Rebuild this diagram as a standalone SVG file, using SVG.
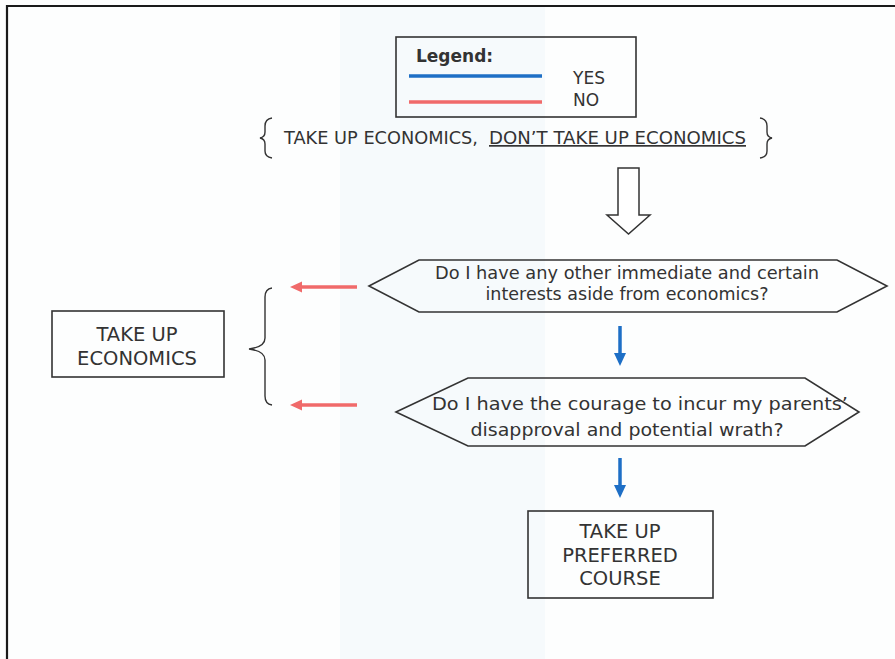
<svg xmlns="http://www.w3.org/2000/svg" width="895" height="659" viewBox="0 0 895 659">
<style>
  text { font-family: "DejaVu Sans", Verdana, sans-serif; fill: #333; }
  .box { fill: none; stroke: #333; stroke-width: 1.6; }
  .t17 { font-size: 17px; }
  .t19 { font-size: 19.5px; }
  .yes { stroke: #1e6fc6; stroke-width: 3.5; fill: none; }
  .no { stroke: #f06a6a; stroke-width: 3.5; fill: none; }
  .yesH { fill: #1e6fc6; }
  .noH { fill: #f06a6a; }
  .brace { fill: none; stroke: #333; stroke-width: 1.4; }
</style>
<rect x="0" y="0" width="895" height="659" fill="#fdfefe"/>
<rect x="340" y="6" width="205" height="653" fill="#f6fafc"/>
<path d="M7 659 V6 H895" fill="none" stroke="#1a1a1a" stroke-width="2.2"/>

<g id="legend">
  <rect class="box" x="396" y="37" width="240" height="80"/>
  <text x="416" y="62" style="font-size:17px;font-weight:bold">Legend:</text>
  <line class="yes" x1="409" y1="76" x2="542" y2="76"/>
  <line class="no" x1="409" y1="102" x2="542" y2="102"/>
  <text x="573" y="84" class="t17">YES</text>
  <text x="573" y="106" class="t17">NO</text>
</g>

<g id="choices">
  <path class="brace" d="M272 118 Q265 119 265 126 V132 Q265 137 260 138 Q265 139 265 144 V151 Q265 157 272 158"/>
  <text x="284" y="144" class="t17" textLength="194" lengthAdjust="spacingAndGlyphs">TAKE UP ECONOMICS,</text>
  <text x="489" y="144" class="t17" textLength="257" lengthAdjust="spacingAndGlyphs" text-decoration="underline">DON’T TAKE UP ECONOMICS</text>
  <path class="brace" d="M760 118 Q767 119 767 126 V132 Q767 137 772 138 Q767 139 767 144 V151 Q767 157 760 158"/>
</g>

<g id="bigArrow">
  <path d="M618 168 H639 V215 H650 L628.5 234 L607 215 H618 Z" fill="#fff" stroke="#333" stroke-width="1.5"/>
</g>

<g id="q1">
  <polygon class="box" points="369,286 419,260 837,260 887,286 837,312 419,312"/>
  <text x="627" y="279" class="t17" text-anchor="middle" textLength="384" lengthAdjust="spacingAndGlyphs">Do I have any other immediate and certain</text>
  <text x="627" y="300" class="t17" text-anchor="middle" textLength="283" lengthAdjust="spacingAndGlyphs">interests aside from economics?</text>
</g>

<g id="q2">
  <polygon class="box" points="396,412 468,378 805,378 859,412 805,446 468,446"/>
  <text x="640" y="410" class="t17" text-anchor="middle" textLength="416" lengthAdjust="spacingAndGlyphs">Do I have the courage to incur my parents’</text>
  <text x="627" y="436" class="t17" text-anchor="middle" textLength="313" lengthAdjust="spacingAndGlyphs">disapproval and potential wrath?</text>
</g>

<g id="takeUpEconomics">
  <rect class="box" x="52" y="311" width="172" height="66"/>
  <text x="137" y="341" class="t19" text-anchor="middle">TAKE UP</text>
  <text x="137" y="365" class="t19" text-anchor="middle">ECONOMICS</text>
</g>

<g id="takeUpPreferred">
  <rect class="box" x="528" y="511" width="185" height="87"/>
  <text x="620" y="538" class="t19" text-anchor="middle">TAKE UP</text>
  <text x="620" y="562" class="t19" text-anchor="middle">PREFERRED</text>
  <text x="620" y="585" class="t19" text-anchor="middle">COURSE</text>
</g>

<g id="connectors">
  <path class="brace" d="M272 288 Q265 289 265 297 V338 Q265 347 249 349 Q265 351 265 360 V396 Q265 404 272 405"/>
  <line class="no" x1="357" y1="287" x2="300" y2="287"/>
  <polygon class="noH" points="290,287 302,281.5 302,292.5"/>
  <line class="no" x1="357" y1="405" x2="300" y2="405"/>
  <polygon class="noH" points="290,405 302,399.5 302,410.5"/>
  <line class="yes" x1="620" y1="326" x2="620" y2="354"/>
  <polygon class="yesH" points="620,366 614,353 626,353"/>
  <line class="yes" x1="620" y1="458" x2="620" y2="486"/>
  <polygon class="yesH" points="620,498 614,485 626,485"/>
</g>
</svg>
